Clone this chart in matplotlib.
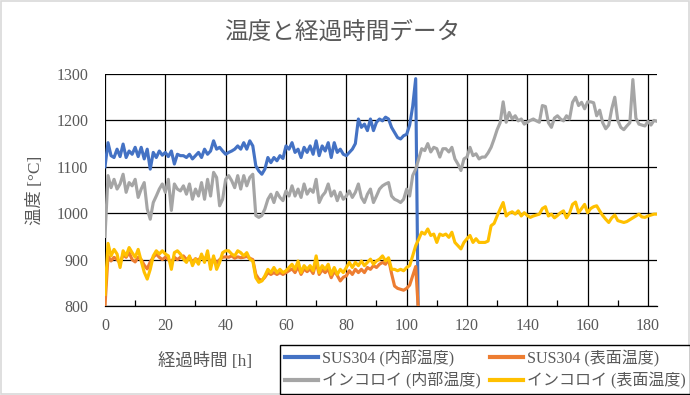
import matplotlib
matplotlib.use("Agg")
import matplotlib.pyplot as plt
from matplotlib.ticker import MultipleLocator
from matplotlib.patches import Rectangle

# ---------------- data ----------------
title = "温度と経過時間データ"
xlabel = "経過時間 [h]"
ylabel = "温度 [°C]"
series_names = ["SUS304 (内部温度)", "SUS304 (表面温度)",
                "インコロイ (内部温度)", "インコロイ (表面温度)"]

hours_sus = list(range(0, 104)) + [103.8]
hours_inc = list(range(0, 184))

sus_inner = [
    1100, 1152, 1124, 1120, 1138, 1122, 1149, 1120, 1134, 1127,
    1142, 1122, 1142, 1117, 1138, 1095, 1131, 1120, 1134, 1125,
    1131, 1122, 1134, 1106, 1127, 1124, 1124, 1120, 1127, 1117,
    1124, 1131, 1120, 1138, 1127, 1134, 1156, 1138, 1142, 1134,
    1127, 1131, 1134, 1138, 1145, 1138, 1152, 1138, 1156, 1145,
    1102, 1091, 1084, 1095, 1120, 1109, 1120, 1113, 1124, 1118,
    1145, 1138, 1152, 1131, 1138, 1120, 1142, 1131, 1145, 1127,
    1156, 1124, 1145, 1134, 1152, 1120, 1152, 1131, 1138, 1127,
    1124, 1131, 1138, 1150, 1203, 1185, 1192, 1178, 1203, 1178,
    1196, 1203, 1199, 1207, 1203, 1185, 1174, 1163, 1160, 1167,
    1170, 1190, 1230, 1290,
    800,
]

sus_surface = [
    800, 908, 897, 905, 900, 893, 910, 905, 915, 900,
    895, 905, 900, 888, 880, 895, 905, 912, 905, 900,
    905, 900, 895, 905, 900, 905, 908, 900, 905, 895,
    902, 898, 908, 900, 910, 890, 903, 892, 900, 905,
    906, 905, 908, 903, 906, 904, 905, 907, 903, 900,
    868, 858, 855, 862, 872, 868, 872, 868, 872, 868,
    872, 876, 880, 872, 885, 868, 880, 874, 880, 870,
    895, 868, 878, 872, 880, 861, 875, 866, 854, 862,
    865, 876, 868, 879, 872, 879, 872, 883, 879, 887,
    883, 890, 894, 890, 901, 870, 843, 838, 836, 834,
    838, 845, 865, 885,
    800,
]

inc_inner = [
    950, 1081, 1055, 1073, 1052, 1063, 1084, 1045, 1066, 1059,
    1073, 1034, 1052, 1066, 1009, 987, 1023, 1037, 1052, 1063,
    1045, 1073, 1006, 1063, 1052, 1048, 1059, 1041, 1063, 1030,
    1052, 1037, 1066, 1030, 1073, 1037, 1088, 1077, 1016, 1030,
    1073, 1081, 1070, 1055, 1081, 1052, 1081, 1059, 1077, 1084,
    995, 991, 995, 1009, 1030, 1041, 1023, 1045, 1034, 1027,
    1048, 1037, 1059, 1037, 1052, 1034, 1063, 1041, 1052, 1045,
    1073, 1023, 1037, 1045, 1063, 1037, 1048, 1027, 1045, 1030,
    1037, 1048, 1034, 1045, 1063, 1034, 1023, 1041, 1052, 1023,
    1037, 1052, 1059, 1063, 1066, 1037, 1030, 1027, 1023, 1030,
    1052, 1037, 1081, 1095, 1117, 1139, 1135, 1150, 1132, 1142,
    1139, 1121, 1139, 1139, 1132, 1142, 1117, 1106, 1092, 1117,
    1121, 1142, 1124, 1128, 1117, 1121, 1121, 1130, 1142, 1160,
    1180, 1195, 1240, 1196, 1217, 1203, 1210, 1199, 1203, 1192,
    1196, 1200, 1203, 1199, 1196, 1232, 1230, 1195, 1185, 1205,
    1210, 1203, 1199, 1210, 1203, 1239, 1250, 1232, 1239, 1225,
    1240, 1240, 1238, 1210, 1222, 1195, 1182, 1190, 1225, 1250,
    1200, 1185, 1180, 1188, 1195, 1288, 1205, 1192, 1190, 1188,
    1198, 1190, 1200, 1198,
]

inc_surface = [
    825, 935, 908, 922, 912, 883, 919, 908, 926, 915,
    905, 922, 897, 873, 858, 879, 908, 919, 912, 919,
    912, 908, 879, 915, 919, 912, 901, 894, 908, 887,
    901, 890, 912, 894, 919, 879, 908, 879, 894, 915,
    919, 919, 912, 908, 919, 915, 908, 915, 901, 897,
    861, 851, 854, 865, 879, 872, 883, 872, 879, 872,
    876, 883, 890, 879, 897, 872, 887, 879, 887, 876,
    908, 872, 887, 879, 890, 868, 883, 868, 879, 872,
    883, 894, 883, 894, 887, 897, 887, 894, 901, 890,
    897, 901, 908, 897, 904, 879, 879, 876, 879, 876,
    883, 887, 908, 930, 944, 959, 955, 966, 952, 955,
    937, 955, 952, 955, 948, 959, 937, 930, 923, 937,
    945, 952, 937, 945, 937, 937, 937, 940, 973, 978,
    994, 1009, 1023, 994, 1000, 1003, 998, 1005, 994, 1001,
    995, 991, 994, 996, 998, 1010, 1014, 994, 998, 990,
    995, 1001, 1005, 990, 1000, 1019, 1024, 1001, 1010, 1019,
    1001, 1010, 1014, 1016, 1005, 995, 987, 980, 990, 996,
    984, 982, 980, 982, 986, 990, 994, 998, 992, 991,
    994, 996, 998, 998,
]

colors = ["#4472C4", "#ED7D31", "#A5A5A5", "#FFC000"]
x_ticks = [0, 20, 40, 60, 80, 100, 120, 140, 160, 180]
y_ticks = [800, 900, 1000, 1100, 1200, 1300]

# ---------------- figure ----------------
MIX = ["Liberation Serif", "Noto Sans CJK JP"]
TXT = "#595959"

fig = plt.figure(figsize=(6.9, 3.95), dpi=100)
ax = fig.add_axes([105 / 690, 1 - 306 / 395, (657 - 105) / 690, (306 - 74) / 395])

l0, = ax.plot(hours_sus, sus_inner, color=colors[0], lw=2.25, label=series_names[0], zorder=3)
l1, = ax.plot(hours_sus, sus_surface, color=colors[1], lw=2.25, label=series_names[1], zorder=3)
l2, = ax.plot(hours_inc, inc_inner, color=colors[2], lw=2.25, label=series_names[2], zorder=3)
l3, = ax.plot(hours_inc, inc_surface, color=colors[3], lw=2.25, label=series_names[3], zorder=3)

ax.set_xlim(0, 183)
ax.set_ylim(800, 1300)
ax.set_xticks(x_ticks)
ax.set_yticks(y_ticks)
ax.xaxis.set_minor_locator(MultipleLocator(10))
ax.grid(True, which="major", color="black", lw=0.9)
ax.set_axisbelow(True)
for s in ["top", "right", "left"]:
    ax.spines[s].set_visible(False)
ax.spines["bottom"].set_color("black")
ax.spines["bottom"].set_linewidth(0.9)
ax.tick_params(axis="x", which="major", direction="in", length=0, pad=9,
               labelcolor=TXT, labelsize=11.5)
ax.tick_params(axis="x", which="minor", direction="in", length=4, width=0.9, color="black")
ax.tick_params(axis="y", which="major", length=0, pad=12, labelcolor=TXT, labelsize=11.5)
for lab in ax.get_xticklabels() + ax.get_yticklabels():
    lab.set_fontfamily("Liberation Serif")

fig.text(0.496, 1 - 33 / 395, title, ha="center", va="center", fontsize=17,
         color=TXT, family=["Noto Sans CJK JP", "DejaVu Sans"])
fig.text(35 / 690, 1 - 190 / 395, ylabel, ha="center", va="center", rotation=90,
         fontsize=12.5, color=TXT, family=MIX)
fig.text(205 / 690, 1 - 362 / 395, xlabel, ha="center", va="center",
         fontsize=12.5, color=TXT, family=MIX)

# row-wise order: (blue, orange) / (gray, yellow) -> column-major list
handles = [l0, l2, l1, l3]
labels = [series_names[0], series_names[2], series_names[1], series_names[3]]
leg = fig.legend(handles, labels, loc="upper left", bbox_to_anchor=(280 / 690, 1 - 345 / 395),
                 ncol=2, prop={"family": MIX, "size": 11.5}, frameon=True, fancybox=False,
                 edgecolor="black", framealpha=1, handlelength=2.1, handletextpad=0.2,
                 columnspacing=0.6, labelspacing=0.35, borderpad=0.3, borderaxespad=0)
leg.get_frame().set_linewidth(1.0)
for t in leg.get_texts():
    t.set_color(TXT)
for h in leg.get_lines():
    h.set_linewidth(3)

fig.patches.append(Rectangle((0.001, 0.002), 0.998, 0.996, transform=fig.transFigure,
                             fill=False, edgecolor="#D9D9D9", lw=1.2))

fig.savefig("out.png", dpi=100, facecolor="white")
